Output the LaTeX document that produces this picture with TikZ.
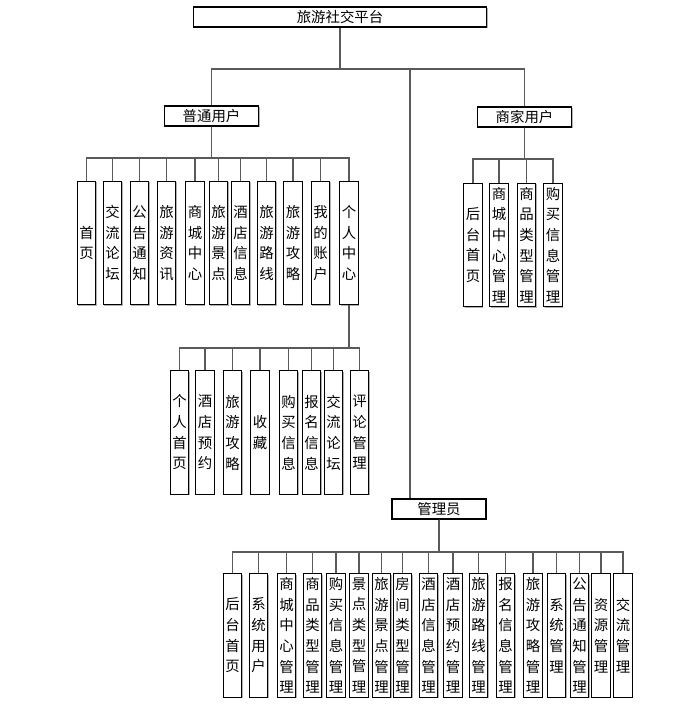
\documentclass[tikz,border=0pt]{standalone}
\usepackage{fontspec}
\usepackage{tikz}
\usetikzlibrary{positioning,calc,shadows}
\newfontfamily\cjk{Noto Sans CJK SC}
\definecolor{cLine}{HTML}{5A5A5A}
\definecolor{cShade}{HTML}{9E9E9E}
\tikzset{
  head/.style={draw=black, line width=0.8pt, fill=white, minimum height=15pt, inner sep=0pt,
               drop shadow={shadow xshift=0.8pt, shadow yshift=-0.8pt, fill=cShade, opacity=0.8}},
  leaf/.style={draw=black, line width=0.8pt, fill=white, align=center, minimum width=14pt,
               minimum height=92.5pt, inner sep=0pt,
               drop shadow={shadow xshift=0.8pt, shadow yshift=-0.8pt, fill=cShade, opacity=0.8}},
  link/.style={draw=cLine, line width=1pt},
}

\begin{document}
\begin{tikzpicture}[x=0.75pt, y=-0.75pt, font=\cjk\fontsize{10.8}{15.5}\selectfont]
  \fill[white] (0,0) rectangle (692,713);
  \useasboundingbox (0,0) rectangle (692,713);
  % top level
  \node[head, minimum width=220pt] (root) at (340,17) {旅游社交平台};
  \node[head, minimum width=71pt] (user) at (211.5,116) {普通用户};
  \node[head, minimum width=71pt] (biz) at (524.5,117) {商家用户};
  \node[head, minimum width=70.5pt] (admin) at (439,509) {管理员};
  % leaves
  \foreach \x/\t [count=\i] in {86.5/首\\页, 112.5/交\\流\\论\\坛, 139.5/公\\告\\通\\知,
      166.5/旅\\游\\资\\讯, 195/商\\城\\中\\心, 218.5/旅\\游\\景\\点, 240.5/酒\\店\\信\\息,
      266.5/旅\\游\\路\\线, 293/旅\\游\\攻\\略, 320.5/我\\的\\账\\户, 349/个\\人\\中\\心}
    \node[leaf] (u\i) at (\x,243) {\t};
  \foreach \x/\t [count=\i] in {179.5/个\\人\\首\\页, 205/酒\\店\\预\\约, 232.5/旅\\游\\攻\\略,
      260/收\\藏, 288.5/购\\买\\信\\息, 311.5/报\\名\\信\\息, 333.5/交\\流\\论\\坛, 359.5/评\\论\\管\\理}
    \node[leaf] (p\i) at (\x,432.5) {\t};
  \foreach \x/\t [count=\i] in {473/后\\台\\首\\页, 499/商\\城\\中\\心\\管\\理,
      526.5/商\\品\\类\\型\\管\\理, 553/购\\买\\信\\息\\管\\理}
    \node[leaf] (b\i) at (\x,245) {\t};
  \foreach \x/\t [count=\i] in {232.5/后\\台\\首\\页, 258.5/系\\统\\用\\户, 286.5/商\\城\\中\\心\\管\\理,
      312.5/商\\品\\类\\型\\管\\理, 336/购\\买\\信\\息\\管\\理, 359/景\\点\\类\\型\\管\\理,
      381.5/旅\\游\\景\\点\\管\\理, 402.5/房\\间\\类\\型\\管\\理, 428.5/酒\\店\\信\\息\\管\\理,
      453/酒\\店\\预\\约\\管\\理, 478.5/旅\\游\\路\\线\\管\\理, 505.5/报\\名\\信\\息\\管\\理,
      533/旅\\游\\攻\\略\\管\\理, 556.5/系\\统\\管\\理, 579.5/公\\告\\通\\知\\管\\理,
      601/资\\源\\管\\理, 623/交\\流\\管\\理}
    \node[leaf] (a\i) at (\x,635.5) {\t};
  % connectors
  \coordinate (rbar) at (340,69);
  \coordinate (mid) at (410,69);
  \draw[link] (root.south) -- (rbar) -| (user.north);
  \draw[link] (rbar) -| (biz.north);
  \draw[link] (mid) -- (mid |- admin.north);
  \coordinate (ubar) at (211.5,158);
  \foreach \i in {1,...,11} \draw[link] (user.south) -- (ubar) -| (u\i.north);
  \coordinate (pbar) at (349,348);
  \foreach \i in {1,...,8} \draw[link] (u11.south) -- (pbar) -| (p\i.north);
  \coordinate (bbar) at (524.5,159);
  \foreach \i in {1,...,4} \draw[link] (biz.south) -- (bbar) -| (b\i.north);
  \coordinate (abar) at (439,552);
  \foreach \i in {1,...,17} \draw[link] (admin.south) -- (abar) -| (a\i.north);
\end{tikzpicture}
\end{document}
